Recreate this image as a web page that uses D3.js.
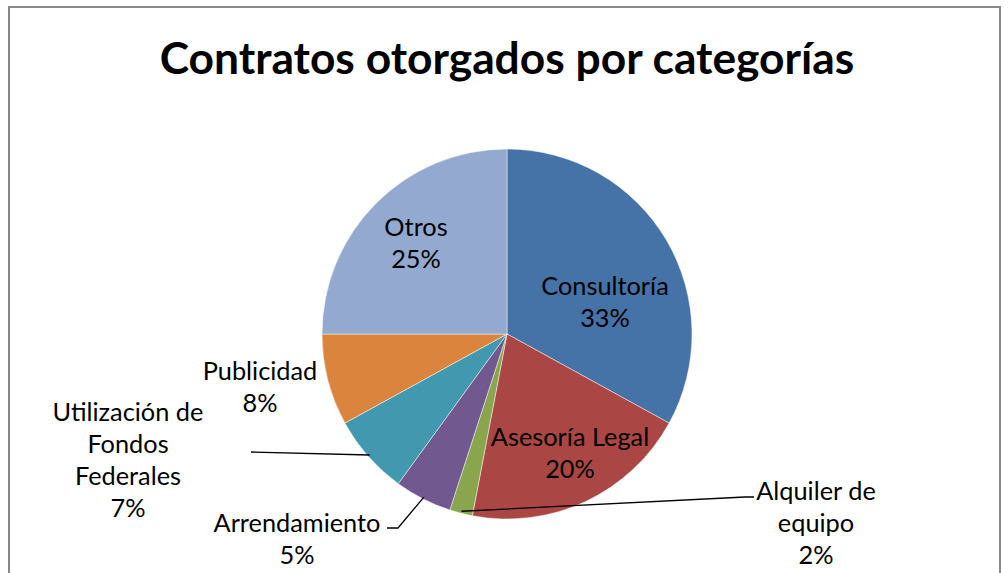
<!DOCTYPE html>
<html>
<head>
<meta charset="utf-8">
<script src="https://cdn.jsdelivr.net/npm/d3@7"></script>
<style>
  html, body { margin: 0; padding: 0; background: #fff; }
  svg { display: block; }
  text { font-family: Lato, "Open Sans", sans-serif; fill: #000; }
</style>
</head>
<body>
<div class="render"></div>
<script>
// data, clockwise from 12 o'clock
var categories = ["Consultoría", "Asesoría Legal", "Alquiler de equipo", "Arrendamiento",
                  "Utilización de Fondos Federales", "Publicidad", "Otros"];
var values = [33, 20, 2, 5, 7, 8, 25];
var labelLines = [
    ["Consultoría", "33%"],
    ["Asesoría Legal", "20%"],
    ["Alquiler de", "equipo", "2%"],
    ["Arrendamiento", "5%"],
    ["Utilización de", "Fondos", "Federales", "7%"],
    ["Publicidad", "8%"],
    ["Otros", "25%"]
];
var colors = ["#4572A7", "#AA4643", "#89A54E", "#71588F", "#4198AF", "#DB843D", "#93A9CF"];
var title = "Contratos otorgados por categorías";

var width = 1008, height = 573;
var cx = 507, cy = 334, radius = 185;
var lineH = 32;

// where Excel put each label (center x, first baseline y) and its leader line end
var labelPos = {
    "Consultoría": {x: 605, y: 295},
    "Asesoría Legal": {x: 570, y: 446},
    "Alquiler de equipo": {x: 816, y: 500, lead: [[754, 497], [745, 497]]},
    "Arrendamiento": {x: 297, y: 532, lead: [[387, 528], [398, 528]]},
    "Utilización de Fondos Federales": {x: 128, y: 421, lead: [[251, 452]]},
    "Publicidad": {x: 260, y: 380},
    "Otros": {x: 416, y: 236}
};

var svg = d3.select(".render").append("svg")
    .attr("width", width).attr("height", height);

svg.append("rect")
    .attr("x", 9).attr("y", 7)
    .attr("width", 991).attr("height", 600)
    .attr("fill", "#fff")
    .attr("stroke", "#878787")
    .attr("stroke-width", 2);

var titleText = svg.append("text")
    .attr("x", cx).attr("y", 74)
    .attr("text-anchor", "middle")
    .style("font-weight", "bold")
    .style("font-size", "42px")
    .text(title);
// fit to the width it has in the picture
var tw = titleText.node().getComputedTextLength();
titleText.style("font-size", (42 * 695 / tw) + "px");

var pie = d3.pie().value(function(d) { return d; }).sort(null);
var arc = d3.arc().innerRadius(0).outerRadius(radius);
var arcs = pie(values);

var g = svg.append("g").attr("transform", "translate(" + cx + "," + cy + ")");

g.selectAll("path.slice")
    .data(arcs)
    .enter().append("path")
    .attr("class", "slice")
    .attr("d", arc)
    .attr("fill", function(d, i) { return colors[i]; })
    .attr("stroke", "#fff")
    .attr("stroke-opacity", 0.6)
    .attr("stroke-width", 0.8);

// label font size, fitted on one word
var probe = svg.append("text").style("font-size", "24px").text("Arrendamiento");
var labelSize = 24 * 167 / probe.node().getComputedTextLength();
probe.remove();

// leader lines
var edge = d3.arc().innerRadius(radius - 2).outerRadius(radius - 2);
arcs.forEach(function(d, i) {
    var p = labelPos[categories[i]];
    if (!p.lead) return;
    var c = edge.centroid(d);
    var pts = p.lead.concat([[cx + c[0], cy + c[1]]]);
    svg.append("path")
        .attr("d", d3.line()(pts))
        .attr("fill", "none")
        .attr("stroke", "#000")
        .attr("stroke-width", 1.3);
});

arcs.forEach(function(d, i) {
    var p = labelPos[categories[i]];
    var t = svg.append("text")
        .attr("text-anchor", "middle")
        .style("font-size", labelSize + "px");
    labelLines[i].forEach(function(s, k) {
        t.append("tspan")
            .attr("x", p.x)
            .attr("y", p.y + k * lineH)
            .text(s);
    });
});
</script>
</body>
</html>
